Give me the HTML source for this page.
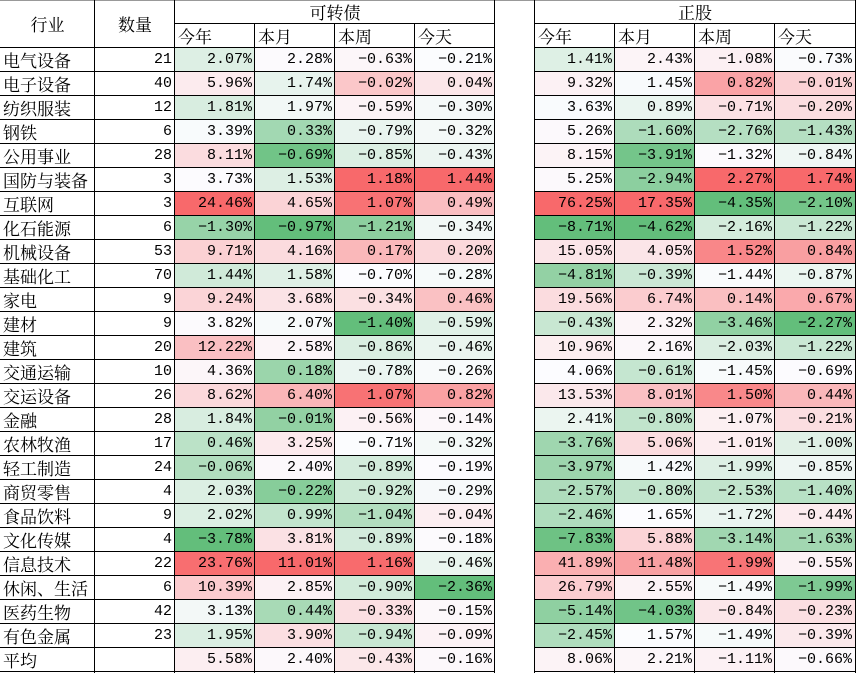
<!DOCTYPE html>
<html><head><meta charset="utf-8"><style>
body{margin:0;background:#fff;width:856px;height:673px;overflow:hidden;position:relative;font-family:"Liberation Mono","Noto Serif CJK SC",monospace}
.c{position:absolute;box-sizing:border-box;font-size:15px;line-height:24px;height:24px;white-space:nowrap;color:#000}
.l{position:absolute;background:#000}
.t{font-family:"Noto Serif CJK SC","Noto Sans CJK SC",serif;font-size:17px}
</style></head><body><div id="r"></div>
<script>
const D=`电气设备 21 2.07 2.28 -0.63 -0.21 1.41 2.43 -1.08 -0.73
电子设备 40 5.96 1.74 -0.02 0.04 9.32 1.45 0.82 -0.01
纺织服装 12 1.81 1.97 -0.59 -0.30 3.63 0.89 -0.71 -0.20
钢铁 6 3.39 0.33 -0.79 -0.32 5.26 -1.60 -2.76 -1.43
公用事业 28 8.11 -0.69 -0.85 -0.43 8.15 -3.91 -1.32 -0.84
国防与装备 3 3.73 1.53 1.18 1.44 5.25 -2.94 2.27 1.74
互联网 3 24.46 4.65 1.07 0.49 76.25 17.35 -4.35 -2.10
化石能源 6 -1.30 -0.97 -1.21 -0.34 -8.71 -4.62 -2.16 -1.22
机械设备 53 9.71 4.16 0.17 0.20 15.05 4.05 1.52 0.84
基础化工 70 1.44 1.58 -0.70 -0.28 -4.81 -0.39 -1.44 -0.87
家电 9 9.24 3.68 -0.34 0.46 19.56 6.74 0.14 0.67
建材 9 3.82 2.07 -1.40 -0.59 -0.43 2.32 -3.46 -2.27
建筑 20 12.22 2.58 -0.86 -0.46 10.96 2.16 -2.03 -1.22
交通运输 10 4.36 0.18 -0.78 -0.26 4.06 -0.61 -1.45 -0.69
交运设备 26 8.62 6.40 1.07 0.82 13.53 8.01 1.50 0.44
金融 28 1.84 -0.01 -0.56 -0.14 2.41 -0.80 -1.07 -0.21
农林牧渔 17 0.46 3.25 -0.71 -0.32 -3.76 5.06 -1.01 -1.00
轻工制造 24 -0.06 2.40 -0.89 -0.19 -3.97 1.42 -1.99 -0.85
商贸零售 4 2.03 -0.22 -0.92 -0.29 -2.57 -0.80 -2.53 -1.40
食品饮料 9 2.02 0.99 -1.04 -0.04 -2.46 1.65 -1.72 -0.44
文化传媒 4 -3.78 3.81 -0.89 -0.18 -7.83 5.88 -3.14 -1.63
信息技术 22 23.76 11.01 1.16 -0.46 41.89 11.48 1.99 -0.55
休闲、生活 6 10.39 2.85 -0.90 -2.36 26.79 2.55 -1.49 -1.99
医药生物 42 3.13 0.44 -0.33 -0.15 -5.14 -4.03 -0.84 -0.23
有色金属 23 1.95 3.90 -0.94 -0.09 -2.45 1.57 -1.49 -0.39
平均 - 5.58 2.40 -0.43 -0.16 8.06 2.21 -1.11 -0.66`.split('\n').map(s=>s.split(' '));
const xs=[175,255,335,415,535,615,695,775];
let h='';
const cell=(x,y,w,txt,al,cls,bg)=>{h+=`<div class="c ${cls||''}" style="left:${x}px;top:${y}px;width:${w}px;text-align:${al};padding:0 3px;${bg?'background:'+bg:''}">${txt}</div>`};
const R=[248,105,107],W=[252,252,255],G=[99,190,123];
const mix=(a,b,t)=>'rgb('+a.map((v,i)=>Math.round(v+(b[i]-v)*t)).join(',')+')';
for(let c=0;c<8;c++){
 const vals=D.map(r=>+r[c+2]);const s=[...vals].sort((a,b)=>a-b);
 const mn=s[0],mx=s[s.length-1],n=s.length;const p=(n-1)*0.5;const md=s[Math.floor(p)]+(s[Math.ceil(p)]-s[Math.floor(p)])*(p-Math.floor(p));
 D.forEach((r,i)=>{const v=vals[i];let bg=v>=md?mix(W,R,(v-md)/(mx-md)):mix(W,G,(md-v)/(md-mn));
  cell(xs[c],48+24*i,80,v.toFixed(2).replace('-','−')+'%','right','',bg);});
}
D.forEach((r,i)=>{cell(0,48+24*i,95,r[0],'left','t');if(r[1]!='-')cell(95,48+24*i,80,r[1],'right','');});
h+=`<div class="c t" style="left:0;top:12px;width:95px;text-align:center">行业</div><div class="c t" style="left:95px;top:12px;width:80px;text-align:center">数量</div>`;
h+=`<div class="c t" style="left:175px;top:0;width:320px;text-align:center">可转债</div><div class="c t" style="left:535px;top:0;width:320px;text-align:center">正股</div>`;
['今年','本月','本周','今天'].forEach((t,k)=>{cell(xs[k],24,80,t,'left','t');cell(xs[k+4],24,80,t,'left','t');});
// lines
h+=`<div class="l" style="left:0;top:0;width:856px;height:1px;background:#999"></div>`;
for(let i=0;i<=26;i++){const y=47+24*i;h+=`<div class="l" style="left:0;top:${y}px;width:495px;height:1px"></div><div class="l" style="left:535px;top:${y}px;width:321px;height:1px"></div>`;}
h+=`<div class="l" style="left:175px;top:23px;width:320px;height:1px"></div><div class="l" style="left:535px;top:23px;width:321px;height:1px"></div>`;
[94,174,494,534,855].forEach(x=>h+=`<div class="l" style="left:${x}px;top:0;width:1px;height:673px"></div>`);
[254,334,414,614,694,774].forEach(x=>h+=`<div class="l" style="left:${x}px;top:24px;width:1px;height:649px"></div>`);
document.getElementById('r').innerHTML=h;
</script></body></html>
